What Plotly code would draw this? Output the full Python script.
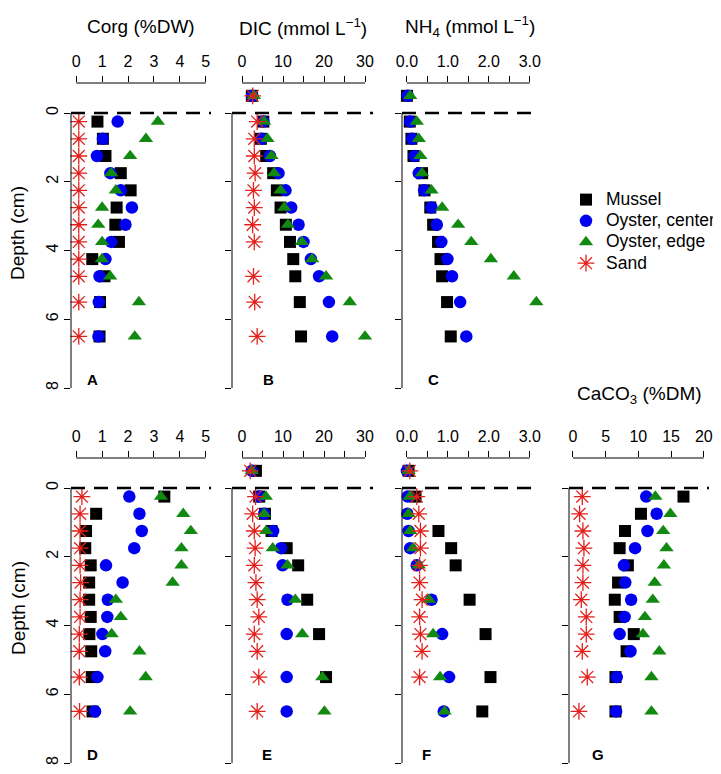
import plotly.graph_objects as go

# sediment depths (cm); -0.5 = overlying water sample
depth = [0.25, 0.75, 1.25, 1.75, 2.25, 2.75, 3.25, 3.75, 4.25, 4.75, 5.5, 6.5]
depth_w = [-0.5] + depth

series_names = ["Mussel", "Oyster, center", "Oyster, edge", "Sand"]

# A - Corg (%DW), first campaign
corg1_mussel = [0.82, 1.03, 1.13, 1.72, 2.1, 1.56, 1.51, 1.65, 0.62, 1.09, 0.92, 0.9]
corg1_center = [1.6, 1.03, 0.8, 1.32, 1.72, 2.15, 1.9, 1.35, 1.13, 0.9, 0.87, 0.86]
corg1_edge = [3.15, 2.69, 2.08, 1.35, 1.53, 1.0, 0.85, 1.0, 0.99, 1.31, 2.42, 2.26]
corg1_sand = [0.1] * 12

# B - DIC (mmol/L), first campaign (first value = water)
dic1_mussel = [2.4, 5.2, 4.6, 5.9, 7.6, 8.5, 9.4, 10.7, 11.7, 12.5, 13.0, 14.1, 14.4]
dic1_center = [2.5, 5.2, 4.8, 6.8, 8.9, 10.6, 12.0, 13.8, 15.0, 16.8, 18.8, 21.2, 22.0]
dic1_edge = [2.9, 5.4, 6.2, 7.2, 7.8, 9.4, 10.3, 11.2, 14.6, 17.1, 20.5, 26.3, 30.0]
dic1_sand = [2.6, 3.7, 3.0, 3.0, 3.2, 2.8, 3.0, 2.6, 3.0, None, 2.8, 3.1, 3.7]

# C - NH4 (mmol/L), first campaign (first value = water)
nh1_mussel = [0.0, 0.07, 0.11, 0.16, 0.37, 0.43, 0.57, 0.64, 0.76, 0.82, 0.86, 0.98, 1.07]
nh1_center = [0.02, 0.08, 0.13, 0.19, 0.29, 0.42, 0.6, 0.73, 0.84, 0.99, 1.1, 1.3, 1.45]
nh1_edge = [0.08, 0.24, 0.29, 0.33, 0.37, 0.6, 0.86, 1.25, 1.57, 2.05, 2.61, 3.16, None]
nh1_sand = [None] * 13

# D - Corg (%DW), second campaign
corg2_mussel = [3.4, 0.77, 0.38, 0.35, 0.56, 0.5, 0.5, 0.56, 0.51, 0.58, 0.6, 0.63]
corg2_center = [2.05, 2.44, 2.53, 2.24, 1.15, 1.79, 1.22, 1.2, 1.01, 1.12, 0.82, 0.73]
corg2_edge = [3.27, 4.13, 4.42, 4.06, 4.06, 3.72, 1.53, 1.72, 1.37, 2.44, 2.68, 2.08]
corg2_sand = [0.22, 0.15, 0.15, 0.15, 0.15, 0.17, 0.15, 0.15, 0.12, 0.12, 0.12, 0.13]

# E - DIC (mmol/L), second campaign (first value = water)
dic2_mussel = [3.4, 4.2, 5.6, 7.2, 10.9, 13.7, None, 15.9, None, 18.8, None, 20.5, None]
dic2_center = [2.4, 4.2, 5.4, 7.6, 9.5, 9.9, None, 11.1, None, 10.9, None, 10.9, 10.9]
dic2_edge = [2.4, 5.8, 5.4, 5.9, 7.5, 11.1, None, 13.0, None, 14.7, None, 19.6, 20.1]
dic2_sand = [2.0, 3.3, 2.6, 3.0, 3.2, 3.0, 3.4, 3.7, 4.1, 3.0, 3.7, 4.1, 3.7]

# F - NH4 (mmol/L), second campaign (first value = water)
nh2_mussel = [0.04, 0.21, None, 0.77, 1.08, 1.19, None, 1.53, None, 1.92, None, 2.04, 1.84]
nh2_center = [0.0, 0.02, 0.01, 0.04, 0.08, 0.24, None, 0.6, None, 0.86, None, 1.03, 0.9]
nh2_edge = [0.04, 0.07, 0.04, 0.08, 0.15, 0.29, None, 0.54, None, 0.64, None, 0.81, 0.92]
nh2_sand = [0.07, 0.24, 0.29, 0.33, 0.33, 0.31, 0.31, 0.37, 0.31, 0.33, 0.37, 0.31, None]

# G - CaCO3 (%DM), second campaign
caco3_mussel = [16.9, 10.4, 7.96, 7.14, 8.4, 6.9, 6.4, 7.14, 9.3, 8.2, 6.5, 6.5]
caco3_center = [11.2, 12.8, 11.4, 9.5, 7.8, 8.0, 8.9, 7.9, 7.14, 8.8, 6.7, 6.6]
caco3_edge = [12.6, 14.9, 13.8, 14.3, 13.9, 12.5, 12.2, 11.0, 10.7, 13.2, 12.0, 12.0]
caco3_sand = [1.43, 1.02, 1.53, 1.68, 1.53, 1.53, 1.28, 2.04, 2.04, 1.43, 2.19, 0.92]

# tick values / labels for the top x axes (minor = unlabelled ticks)
corg_ticks, corg_minor = [0, 1, 2, 3, 4, 5], []
dic_ticks, dic_minor = [0, 10, 20, 30], [5, 15, 25]
nh_ticks, nh_minor = [0, 1, 2, 3], [0.5, 1.5, 2.5]
nh_labels = ["0.0", "1.0", "2.0", "3.0"]
caco3_ticks, caco3_minor = [0, 5, 10, 15, 20], []
depth_ticks = [0, 2, 4, 6, 8]

# the page puts the figure 8px in from the window corner
OFF = 8
W, H = 721 - OFF, 774 - OFF


def fx(p):
    return (p - OFF) / W


def fy(p):
    return 1 - (p - OFF) / H


FONT = "Liberation Sans, Arial, sans-serif"
colors = ["#000000", "#0000f0", "#128a12", "#e3201c"]
markers = [
    dict(symbol="square", size=12),
    dict(symbol="circle", size=12.5),
    dict(symbol="triangle-up", size=12.5),
    dict(symbol="asterisk-open", size=14, line=dict(width=1.3)),
]

col_dom = {
    "A": [fx(71), fx(211)], "B": [fx(232), fx(373)],
    "C": [fx(402), fx(538)], "G": [fx(569), fx(709)],
}
top_dom = [fy(400), fy(83)]
bot_dom = [max(0.0, fy(774)), fy(458)]

panels = [
    # letter, column, row domain, y range, x range, ticks, labels, minor, depths, data, letter x
    ("A", "A", top_dom, [8.349, -0.873], [-0.2, 5.2], corg_ticks, None, corg_minor, depth,
     [corg1_mussel, corg1_center, corg1_edge, corg1_sand], 0.15),
    ("B", "B", top_dom, [8.349, -0.873], [-2.44, 31.95], dic_ticks, None, dic_minor, depth_w,
     [dic1_mussel, dic1_center, dic1_edge, dic1_sand], 0.26),
    ("C", "C", top_dom, [8.349, -0.873], [-0.12, 3.2], nh_ticks, nh_labels, nh_minor, depth_w,
     [nh1_mussel, nh1_center, nh1_edge, nh1_sand], 0.23),
    ("D", "A", bot_dom, [8.32, -0.873], [-0.2, 5.2], corg_ticks, None, corg_minor, depth,
     [corg2_mussel, corg2_center, corg2_edge, corg2_sand], 0.157),
    ("E", "B", bot_dom, [8.32, -0.873], [-2.44, 31.95], dic_ticks, None, dic_minor, depth_w,
     [dic2_mussel, dic2_center, dic2_edge, dic2_sand], 0.25),
    ("F", "C", bot_dom, [8.32, -0.873], [-0.12, 3.2], nh_ticks, nh_labels, nh_minor, depth_w,
     [nh2_mussel, nh2_center, nh2_edge, nh2_sand], 0.18),
    ("G", "G", bot_dom, [8.32, -0.873], [-0.6, 20.8], caco3_ticks, None, caco3_minor, depth,
     [caco3_mussel, caco3_center, caco3_edge, caco3_sand], 0.21),
]

fig = go.Figure()
shapes = []
annotations = []

for i, (letter, col, ydom, yrng, xrng, xt, xl, xm, dep, data, lx) in enumerate(panels):
    n = "" if i == 0 else str(i + 1)
    xa, ya = "x" + n, "y" + n
    for k, vals in enumerate(data):
        fig.add_trace(go.Scatter(
            x=vals, y=dep, xaxis=xa, yaxis=ya, mode="markers", cliponaxis=False,
            # larger text inside a compact legend row
            name='<span style="font-size:17.5px">%s</span>' % series_names[k],
            legendgroup=series_names[k], showlegend=(i == 0),
            marker=dict(color=colors[k], **markers[k]),
        ))
    xaxis = dict(
        domain=col_dom[col], range=xrng, anchor=ya, side="top",
        tickvals=xt, ticks="outside", ticklen=6, tickwidth=1,
        tickcolor="black", showline=False, showgrid=False, zeroline=False,
        automargin=False, tickfont=dict(size=16, color="black", family=FONT),
        ticklabelstandoff=3,
    )
    if xl:
        xaxis["ticktext"] = xl
    if xm:
        xaxis["minor"] = dict(tickvals=xm, ticks="outside", ticklen=6, tickwidth=1,
                              tickcolor="black", showgrid=False)
    fig.layout["xaxis" + n] = xaxis
    fig.layout["yaxis" + n] = dict(
        domain=ydom, range=yrng, anchor=xa,
        tickvals=depth_ticks, ticks="outside", ticklen=6,
        tickwidth=1, tickcolor="black", showline=False, showgrid=False, zeroline=False,
        automargin=False, showticklabels=letter in ("A", "D"), tickangle=-90,
        ticklabelstandoff=0, tickfont=dict(size=16, color="black", family=FONT),
    )
    # axis lines spanning only the tick range, as in base R
    shapes.append(dict(type="line", xref=xa, yref=ya + " domain", x0=xt[0], x1=xt[-1],
                       y0=1, y1=1, line=dict(color="black", width=1)))
    shapes.append(dict(type="line", xref=xa + " domain", yref=ya, x0=0, x1=0,
                       y0=depth_ticks[0], y1=depth_ticks[-1], line=dict(color="black", width=1)))
    # sediment surface
    shapes.append(dict(type="line", xref=xa + " domain", yref=ya, x0=0, x1=1, y0=0, y1=0,
                       line=dict(color="black", width=2.5, dash="14px,9px")))
    annotations.append(dict(text="<b>%s</b>" % letter, xref=xa + " domain", yref=ya,
                            x=lx, y=7.75, xanchor="center", yanchor="middle",
                            showarrow=False, font=dict(size=15, color="black", family=FONT)))

title_font = dict(size=19, color="black", family=FONT)
titles = [
    ("Corg (%DW)", col_dom["A"], 27),
    ("DIC (mmol L<sup>−1</sup>)", col_dom["B"], 27),
    ("NH<sub>4</sub> (mmol L<sup>−1</sup>)", col_dom["C"], 27),
    ("CaCO<sub>3</sub> (%DM)", col_dom["G"], 395),
]
for txt, dom, py in titles:
    annotations.append(dict(text=txt, xref="paper", yref="paper",
                            x=(dom[0] + dom[1]) / 2, y=fy(py), xanchor="center",
                            yanchor="middle", showarrow=False, font=title_font))
for py in (233, 608):
    annotations.append(dict(text="Depth (cm)", xref="paper", yref="paper",
                            x=fx(18), y=fy(py), xanchor="center", yanchor="middle",
                            textangle=-90, showarrow=False, font=title_font))

fig.update_layout(
    width=W, height=H,
    margin=dict(l=0, r=0, t=0, b=0, autoexpand=False),
    paper_bgcolor="white", plot_bgcolor="white",
    font=dict(family=FONT, color="black"),
    shapes=shapes, annotations=annotations,
    legend=dict(x=1.0, y=fy(184), xanchor="right", yanchor="top",
                xref="container", yref="container",
                font=dict(size=14, color="black", family=FONT),
                bgcolor="rgba(0,0,0,0)", tracegroupgap=0, itemwidth=30),
)

fig.write_html("out.html")
